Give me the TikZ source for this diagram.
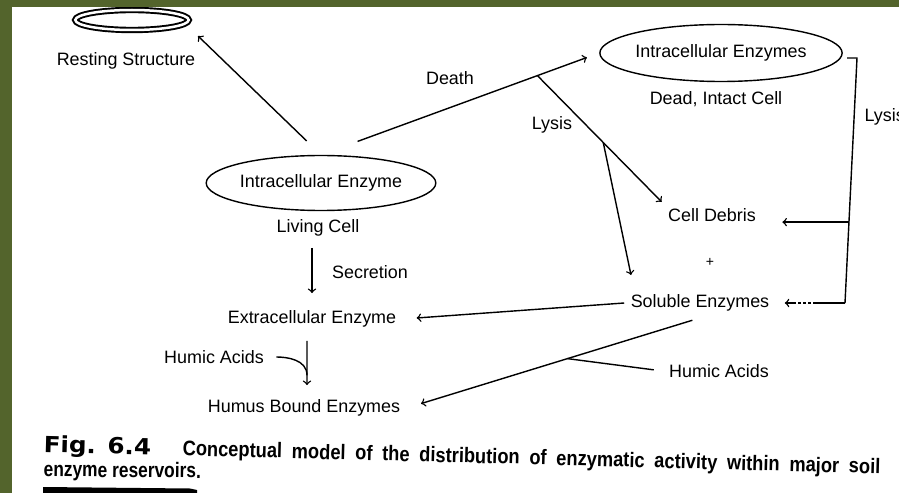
\documentclass[tikz,border=0pt]{standalone}
\usepackage{fontspec}
\setmainfont{Liberation Sans}
\newfontfamily\figfont{DejaVu Sans}
\usetikzlibrary{arrows,shapes.geometric}
\definecolor{mount}{RGB}{83,100,44}

\begin{document}
\begin{tikzpicture}[x=0.02cm, y=-0.02cm, >=to, line width=0.8pt,
        font=\fontsize{10.2}{12}\selectfont,
        pool/.style={draw, ellipse, inner sep=0pt},
        captext/.style={anchor=west, inner sep=0pt, font=\fontsize{10.4}{12}\selectfont\bfseries}]
        \clip (0,0) rectangle (899,493);
        \fill[white] (0,0) rectangle (899,493);

        % reservoirs
        \node[pool, line width=1.1pt, double, double distance=0.05cm, minimum width=2.27cm, minimum height=0.4cm] (rest) at (132,20) {};
        \node (restlbl) at (126,61) {Resting Structure};
        \node[pool, minimum width=4.36cm, minimum height=1.1cm] (live) at (321,183) {Intracellular Enzyme};
        \node (livelbl) at (318,228) {Living Cell};
        \node[pool, minimum width=4.64cm, minimum height=1.14cm] (dead) at (721,53) {Intracellular Enzymes};
        \node (deadlbl) at (716,99) {Dead, Intact Cell};
        \node (debris) at (712,215) {Cell Debris};
        \node[font=\footnotesize] (plus) at (710,262) {+};
        \node (soluble) at (700,303) {Soluble Enzymes};
        \node (extra) at (312,319) {Extracellular Enzyme};
        \node (humus) at (304,408) {Humus Bound Enzymes};
        \node (humicl) at (214,357) {Humic Acids};
        \node (humicr) at (719,371) {Humic Acids};

        % processes
        \node (death) at (450,78) {Death};
        \node (lysisl) at (552,125) {Lysis};
        \node (secr) at (370,272) {Secretion};
        \node[anchor=west] (lysisr) at (858,117) {Lysis};

        \coordinate (restend) at (198,36);
        \coordinate (soltop) at (631,275);
        \coordinate (bt) at (847,58);
        \coordinate (bb) at (845,303);

        \draw[->, shorten <=0.4cm] (live.north) -- (restend);
        \draw[->, shorten <=0.78cm, shorten >=0.26cm] (live.north) -- coordinate[pos=0.778] (dj) (dead.west);
        \draw[->] (dj) -- coordinate[pos=0.53] (lj) (debris.north west);
        \draw[->] (lj) -- (soltop);

        \draw (bt) -- ++(10,0) -- coordinate[pos=0.67] (bm) (bb);
        \draw[->, shorten >=0.4cm] (bm) -- (debris.east |- bm);
        \draw[->, shorten >=0.18cm, dash pattern=on 0.64cm off 0.04cm on 0.06cm off 0.04cm on 0.06cm off 0.04cm on 0.06cm off 0.04cm]
            (bb) -- (soluble.east |- bb);

        \draw[->, shorten >=0.28cm] (soluble.west) -- (extra.east);
        \draw[->, shorten <=0.16cm, shorten >=0.3cm] (soluble.south) -- coordinate[pos=0.452] (hj) (humus.east);
        \draw[shorten <=0.18cm] (humicr.west) -- (hj);

        \draw[->, shorten <=0.1cm, shorten >=0.22cm] (extra.north |- livelbl.south) -- (extra.north);
        \draw[->, shorten <=0.14cm, shorten >=0.16cm] ([xshift=-0.1cm]extra.south) -- coordinate[pos=0.7] (hmerge) ([xshift=0.06cm]humus.north);
        \draw[shorten <=0.12cm] (humicl.east) to[out=0, in=90] (hmerge);

        % caption
        \node[captext, rotate=-1.5] (fig) at (43,446)
            {\fontsize{11.5}{13}\selectfont\scalebox{1.22}[1.1]{\figfont\bfseries Fig. 6.4}};
        \node[captext, rotate=-1.5] (cap) at (182,450)
            {\scalebox{1}[1.15]{\makebox[13.96cm][s]{Conceptual model of the distribution of enzymatic activity within major soil}}};
        \node[captext, rotate=-0.6] (cap2) at (43,471)
            {\scalebox{0.95}[1.15]{enzyme reservoirs.}};
        \fill (43,487) -- (190,488.5) -- (197,490) -- (197,493) -- (43,493) -- cycle;

        % mount
        \fill[mount] (0,0) rectangle (12,493);
        \fill[mount] (0,0) rectangle (899,7);
\end{tikzpicture}
\end{document}
